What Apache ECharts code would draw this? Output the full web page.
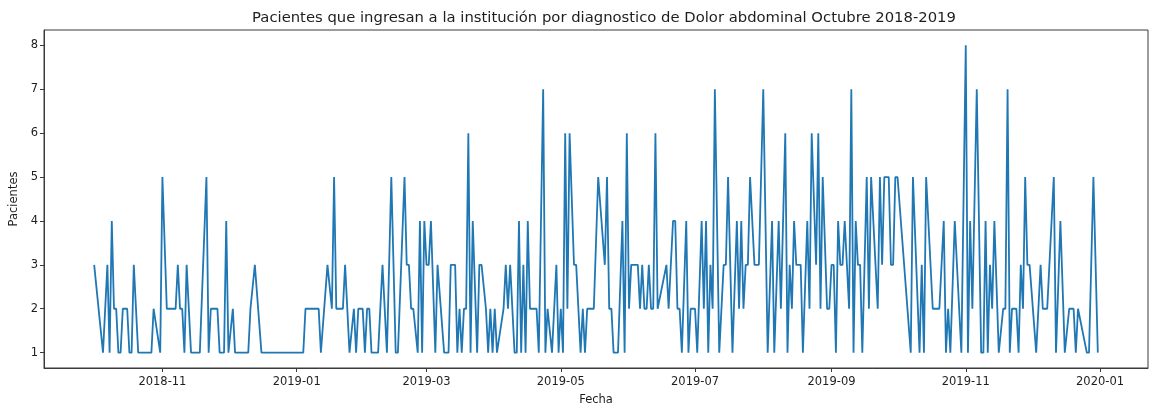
<!DOCTYPE html>
<html>
<head>
<meta charset="utf-8">
<script src="https://cdn.jsdelivr.net/npm/echarts@6/dist/echarts.min.js"></script>
<style>
  html, body { margin: 0; padding: 0; background: #fff; }
  #chart { width: 1149px; height: 406px; }
</style>
</head>
<body>
<div id="chart"></div>
<script>
// Daily admissions for abdominal pain (dates with recorded patients)
const fechas = [
  '2018-10-01','2018-10-05','2018-10-07','2018-10-08','2018-10-09','2018-10-10','2018-10-11','2018-10-12','2018-10-13','2018-10-14',
  '2018-10-16','2018-10-17','2018-10-18','2018-10-19','2018-10-21','2018-10-27','2018-10-28','2018-10-31','2018-11-01','2018-11-03',
  '2018-11-07','2018-11-08','2018-11-09','2018-11-10','2018-11-11','2018-11-12','2018-11-14','2018-11-18','2018-11-21','2018-11-22',
  '2018-11-23','2018-11-26','2018-11-27','2018-11-29','2018-11-30','2018-12-01','2018-12-03','2018-12-04','2018-12-10','2018-12-11',
  '2018-12-13','2018-12-16','2019-01-04','2019-01-05','2019-01-11','2019-01-12','2019-01-15','2019-01-17','2019-01-18','2019-01-19',
  '2019-01-22','2019-01-23','2019-01-25','2019-01-27','2019-01-28','2019-01-29','2019-01-31','2019-02-01','2019-02-02','2019-02-03',
  '2019-02-04','2019-02-07','2019-02-09','2019-02-11','2019-02-13','2019-02-15','2019-02-16','2019-02-19','2019-02-20','2019-02-21',
  '2019-02-22','2019-02-23','2019-02-25','2019-02-26','2019-02-27','2019-02-28','2019-03-01','2019-03-02','2019-03-03','2019-03-05',
  '2019-03-06','2019-03-09','2019-03-11','2019-03-12','2019-03-14','2019-03-15','2019-03-16','2019-03-17','2019-03-18','2019-03-19',
  '2019-03-20','2019-03-21','2019-03-22','2019-03-24','2019-03-25','2019-03-26','2019-03-28','2019-03-29','2019-03-30','2019-03-31',
  '2019-04-01','2019-04-02','2019-04-05','2019-04-06','2019-04-07','2019-04-08','2019-04-10','2019-04-11','2019-04-12','2019-04-13',
  '2019-04-14','2019-04-15','2019-04-16','2019-04-17','2019-04-20','2019-04-21','2019-04-23','2019-04-24','2019-04-25','2019-04-27',
  '2019-04-29','2019-04-30','2019-05-01','2019-05-02','2019-05-03','2019-05-04','2019-05-05','2019-05-07','2019-05-08','2019-05-10',
  '2019-05-11','2019-05-12','2019-05-13','2019-05-16','2019-05-18','2019-05-21','2019-05-22','2019-05-23','2019-05-24','2019-05-25',
  '2019-05-27','2019-05-29','2019-05-30','2019-05-31','2019-06-01','2019-06-02','2019-06-05','2019-06-06','2019-06-07','2019-06-08',
  '2019-06-09','2019-06-10','2019-06-11','2019-06-12','2019-06-13','2019-06-14','2019-06-18','2019-06-19','2019-06-21','2019-06-22',
  '2019-06-23','2019-06-24','2019-06-25','2019-06-27','2019-06-28','2019-06-29','2019-07-01','2019-07-02','2019-07-04','2019-07-05',
  '2019-07-06','2019-07-07','2019-07-08','2019-07-09','2019-07-10','2019-07-12','2019-07-14','2019-07-15','2019-07-16','2019-07-18',
  '2019-07-20','2019-07-21','2019-07-22','2019-07-23','2019-07-24','2019-07-25','2019-07-26','2019-07-28','2019-07-30','2019-08-01',
  '2019-08-03','2019-08-05','2019-08-06','2019-08-08','2019-08-09','2019-08-11','2019-08-12','2019-08-13','2019-08-14','2019-08-15',
  '2019-08-16','2019-08-18','2019-08-19','2019-08-21','2019-08-22','2019-08-23','2019-08-25','2019-08-26','2019-08-27','2019-08-28',
  '2019-08-30','2019-08-31','2019-09-01','2019-09-02','2019-09-03','2019-09-04','2019-09-05','2019-09-06','2019-09-07','2019-09-09',
  '2019-09-10','2019-09-11','2019-09-12','2019-09-13','2019-09-14','2019-09-15','2019-09-17','2019-09-18','2019-09-19','2019-09-22',
  '2019-09-23','2019-09-24','2019-09-25','2019-09-27','2019-09-28','2019-09-29','2019-09-30','2019-10-01','2019-10-07','2019-10-08',
  '2019-10-11','2019-10-12','2019-10-13','2019-10-14','2019-10-17','2019-10-20','2019-10-22','2019-10-23','2019-10-24','2019-10-25',
  '2019-10-27','2019-10-30','2019-11-01','2019-11-02','2019-11-03','2019-11-04','2019-11-06','2019-11-08','2019-11-09','2019-11-10',
  '2019-11-11','2019-11-12','2019-11-13','2019-11-14','2019-11-16','2019-11-18','2019-11-19','2019-11-20','2019-11-21','2019-11-22',
  '2019-11-24','2019-11-25','2019-11-26','2019-11-27','2019-11-28','2019-11-29','2019-11-30','2019-12-03','2019-12-05','2019-12-06',
  '2019-12-08','2019-12-11','2019-12-12','2019-12-14','2019-12-16','2019-12-18','2019-12-20','2019-12-21','2019-12-22','2019-12-26',
  '2019-12-27','2019-12-29','2019-12-31'
];

const pacientes = [
  3,1,3,1,4,2,2,1,1,2,
  2,1,1,3,1,1,2,1,5,2,
  2,3,2,2,1,3,1,1,5,1,
  2,2,1,1,4,1,2,1,1,2,
  3,1,1,2,2,1,3,2,5,2,
  2,3,1,2,1,2,2,1,2,2,
  1,1,3,1,5,1,1,5,3,3,
  2,2,1,4,1,4,3,3,4,1,
  3,1,1,3,3,1,2,1,2,2,
  6,1,4,1,3,3,2,1,2,1,
  2,1,2,3,2,3,1,1,4,1,
  3,1,4,2,2,1,7,1,2,1,
  3,1,2,1,6,2,6,3,3,1,
  2,1,2,2,5,3,5,2,2,1,
  1,4,1,6,2,3,3,2,3,2,
  2,3,2,2,6,2,3,2,4,4,
  2,2,1,4,1,2,2,1,4,2,
  4,1,3,2,7,1,3,3,5,1,
  4,2,4,2,3,3,5,3,3,7,
  1,4,1,4,2,6,1,3,2,4,
  3,3,1,4,2,6,3,6,2,5,
  2,2,3,3,1,4,3,3,4,2,
  7,1,4,3,3,1,5,2,5,2,
  5,3,5,5,3,3,5,5,1,5,
  1,3,1,5,2,2,4,1,2,1,
  4,1,8,1,4,2,7,1,1,4,
  1,3,2,4,1,2,2,7,1,2,
  2,1,3,2,5,3,3,1,3,2,
  2,5,1,4,1,2,2,1,2,1,
  1,5,1
];

const etiquetasX = ['2018-11','2019-01','2019-03','2019-05','2019-07','2019-09','2019-11','2020-01'];
const etiquetasY = [1, 2, 3, 4, 5, 6, 7, 8];

const titulo = 'Pacientes que ingresan a la institución por diagnostico de Dolor abdominal Octubre 2018-2019';

function toTime(s) {
  const p = s.split('-').map(Number);
  return new Date(p[0], p[1] - 1, p[2] || 1).getTime();
}

const serie = fechas.map((f, i) => [toTime(f), pacientes[i]]);
const ticksX = etiquetasX.map(toTime);

// 5% padding on each side of the data range, on both axes
const t0 = serie[0][0], t1 = serie[serie.length - 1][0];
const padX = (t1 - t0) * 0.05;
const vMin = Math.min(...pacientes), vMax = Math.max(...pacientes);
const padY = (vMax - vMin) * 0.05;

const textColor = '#1e1e1e';
const frameColor = '#3a3a3a';
const font = 'DejaVu Sans';

const chart = echarts.init(document.getElementById('chart'), null, { renderer: 'canvas' });
chart.setOption({
  animation: false,
  backgroundColor: '#ffffff',
  title: {
    text: titulo,
    left: 599,
    top: 6,
    textAlign: 'center',
    textStyle: { fontFamily: font, fontSize: 14.8, fontWeight: 'normal', color: textColor }
  },
  grid: {
    left: 44, right: 1, top: 30, bottom: 38,
    containLabel: false,
    outerBoundsMode: 'none',
    show: true, borderColor: frameColor, borderWidth: 1, backgroundColor: 'transparent'
  },
  xAxis: {
    type: 'value',
    min: t0 - padX,
    max: t1 + padX,
    name: 'Fecha',
    nameLocation: 'middle',
    nameGap: 26,
    nameTextStyle: { fontFamily: font, fontSize: 11.5, color: textColor },
    axisLine: { show: true, onZero: false, lineStyle: { color: frameColor, width: 1 } },
    axisTick: {
      show: true, inside: false, length: 4,
      lineStyle: { color: frameColor, width: 1 },
      customValues: ticksX
    },
    axisLabel: {
      show: true, margin: 8, showMinLabel: true, showMaxLabel: true,
      fontFamily: font, fontSize: 11.5, color: textColor,
      customValues: ticksX,
      formatter: function (v) {
        const i = ticksX.indexOf(v);
        return i >= 0 ? etiquetasX[i] : '';
      }
    },
    splitLine: { show: false }
  },
  yAxis: {
    type: 'value',
    min: vMin - padY,
    max: vMax + padY,
    name: 'Pacientes',
    nameLocation: 'middle',
    nameGap: 21,
    nameRotate: 90,
    nameTextStyle: { fontFamily: font, fontSize: 11.5, color: textColor },
    axisLine: { show: true, onZero: false, lineStyle: { color: frameColor, width: 1 } },
    axisTick: {
      show: true, inside: false, length: 4,
      lineStyle: { color: frameColor, width: 1 },
      customValues: etiquetasY
    },
    axisLabel: {
      show: true, margin: 6,
      fontFamily: font, fontSize: 11.5, color: textColor,
      customValues: etiquetasY
    },
    splitLine: { show: false }
  },
  series: [{
    type: 'line',
    data: serie,
    showSymbol: false,
    symbol: 'none',
    lineStyle: { color: '#1f77b4', width: 1.8 },
    itemStyle: { color: '#1f77b4' }
  }]
});
</script>
</body>
</html>
